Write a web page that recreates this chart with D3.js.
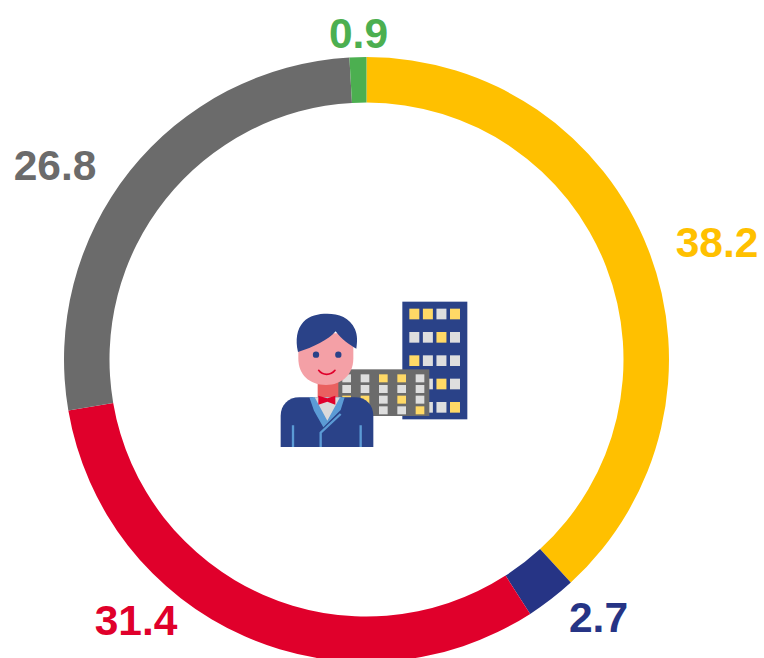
<!DOCTYPE html>
<html>
<head>
<meta charset="utf-8">
<script src="https://cdn.jsdelivr.net/npm/d3@7"></script>
<style>
html,body{margin:0;padding:0;background:#fff;overflow:hidden}
svg{display:block}
text{font-family:"Liberation Sans",Arial,sans-serif;font-weight:700}
</style>
</head>
<body>
<div id="chart"></div>
<script>
const categories = ["A","B","C","D","E"];
const values = [38.2, 2.7, 31.4, 26.8, 0.9];
const labels = ["38.2","2.7","31.4","26.8","0.9"];
const colors = ["#FFC000","#263485","#E0002B","#6B6B6B","#4CAF50"];
const towerWindows = ["YYGY","GGYG","YGGG","GGYG","GGGY"];
const blockWindows = ["GGYYG","GGGGG","YYGYG","GGGGY"];

const W = 764, H = 658, cx = 366.5, cy = 359.5, outer = 302.5, inner = 257;
const svg = d3.select("#chart").append("svg").attr("width", W).attr("height", H);
const pie = d3.pie().sort(null).value(d => d)(values);
const arc = d3.arc().innerRadius(inner).outerRadius(outer);
const ring = svg.append("g").attr("transform", `translate(${cx},${cy})`);
ring.selectAll("path").data(pie).join("path").attr("d", arc).attr("fill", (d,i) => colors[i]);

const labelPos = [[717,242],[598.5,617],[136,620],[55,165],[358.5,33]];
svg.selectAll("text.v").data(labels).join("text").attr("class","v")
  .attr("x",(d,i)=>labelPos[i][0]).attr("y",(d,i)=>labelPos[i][1])
  .attr("dy","0.36em").attr("text-anchor","middle").attr("font-size",42.5)
  .attr("fill",(d,i)=>colors[i]).text(d=>d);

// Icon, drawn in 3x local units
const ic = svg.append("g").attr("transform","translate(270,290) scale(0.33333)");
const NAVY="#2A4288", WY="#FFD966", WG="#DEDEDE";
ic.append("rect").attr("x",397).attr("y",35).attr("width",195).attr("height",353).attr("fill",NAVY);
const tx=d3.scalePoint().domain(d3.range(4)).range([433,555]);
const ty=d3.scalePoint().domain(d3.range(5)).range([72,352]);
towerWindows.forEach((r,j)=>[...r].forEach((c,i)=>ic.append("rect")
  .attr("x",tx(i)-15).attr("y",ty(j)-16).attr("width",30).attr("height",32)
  .attr("fill",c==="Y"?WY:WG)));
ic.append("rect").attr("x",203).attr("y",238).attr("width",275).attr("height",140).attr("fill","#6B6B6B");
const bx=d3.scalePoint().domain(d3.range(5)).range([230,450]);
const by=d3.scalePoint().domain(d3.range(4)).range([265,361]);
blockWindows.forEach((r,j)=>[...r].forEach((c,i)=>ic.append("rect")
  .attr("x",bx(i)-13).attr("y",by(j)-12).attr("width",26).attr("height",24)
  .attr("fill",c==="Y"?WY:WG)));
// neck
ic.append("rect").attr("x",143).attr("y",270).attr("width",62).attr("height",55).attr("fill","#EA6060");
// suit
ic.append("path").attr("d","M32 471 V378 C32 345 55 322 88 322 H255 C288 322 310 345 310 378 V471 Z").attr("fill",NAVY);
// shirt
ic.append("path").attr("d","M128 322 H214 L172 395 Z").attr("fill","#DADADA");
// collar
ic.append("path").attr("d","M118 322 L134 322 L172 392 L210 322 L224 322 L212 360 L160 412 L132 362 Z").attr("fill","#5B9BD5");
// bow
ic.append("path").attr("d","M145 317 L172 325 L196 317 V344 L172 335 L145 344 Z").attr("fill","#E0002B");
// lapel lines
ic.append("path").attr("d","M69 471 V406 M272 471 V406 M152 471 V428 L212 372").attr("stroke","#5B9BD5").attr("stroke-width",7).attr("fill","none");
// face
ic.append("path").attr("d","M85 130 H250 V205 C250 255 215 285 168 285 C118 285 85 255 85 205 Z").attr("fill","#F4A0A6");
// hair
ic.append("path").attr("d","M84 186 C76 150 80 118 100 96 C118 76 145 71 172 71 C205 71 240 82 255 118 C263 138 262 155 259 176 C240 165 215 150 197 124 C175 150 130 172 84 186 Z").attr("fill",NAVY);
// eyes
ic.selectAll("circle.e").data([138,205]).join("circle").attr("class","e").attr("cx",d=>d).attr("cy",194).attr("r",9.5).attr("fill",NAVY);
// smile
ic.append("path").attr("d","M146 241 C158 257 182 257 195 241").attr("stroke","#E0002B").attr("stroke-width",5).attr("fill","none").attr("stroke-linecap","round");
</script>
</body>
</html>
